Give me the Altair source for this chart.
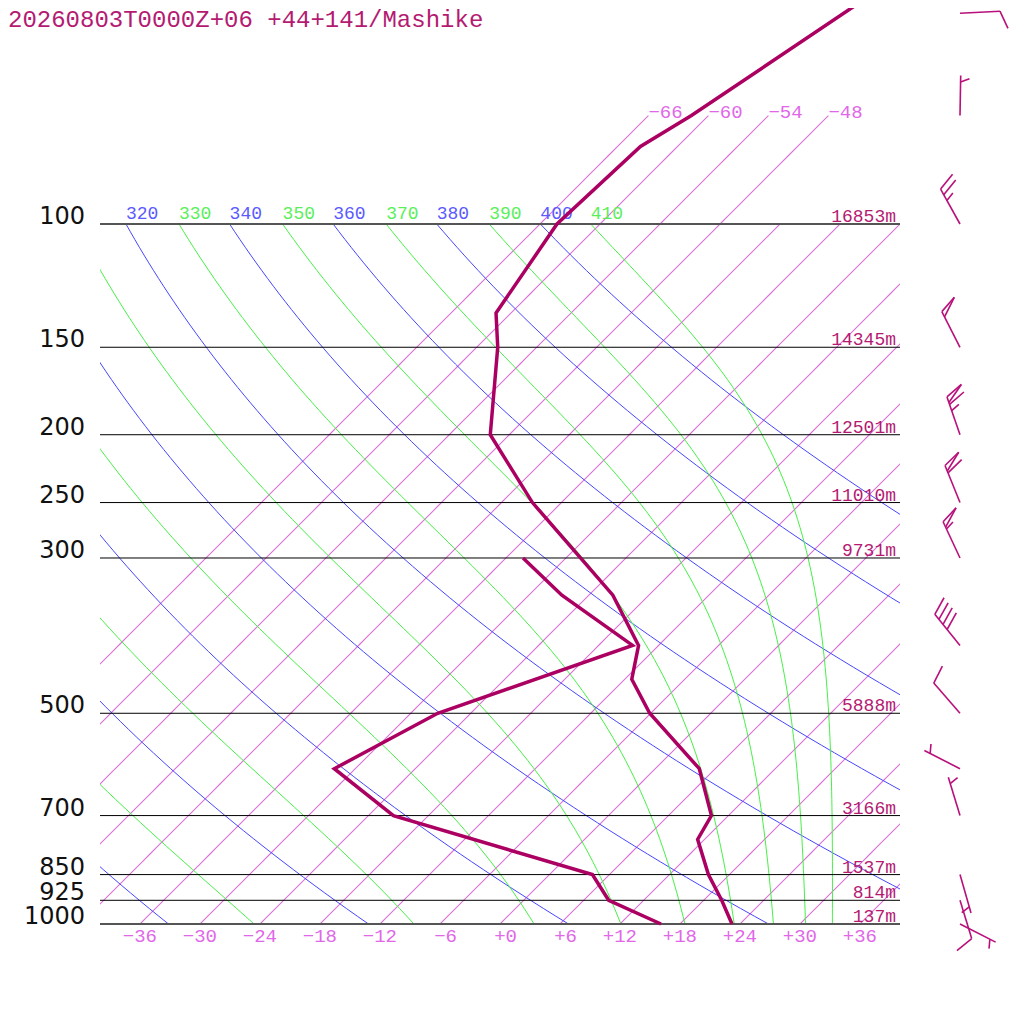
import math
import numpy as np
import pandas as pd
import altair as alt

TITLE = "20260803T0000Z+06 +44+141/Mashike"

# Sounding: temperature (hPa, degC)
T_P = [48, 70, 77.5, 100, 134, 150, 200, 250, 339, 400, 447, 500, 600, 700, 757, 850, 925, 1000]
T_C = [-56.1, -61.7, -63.7, -64.3, -61.5, -57.9, -49.9, -38.9, -21.6, -14.0, -11.3, -6.1,
       4.4, 10.3, 11.3, 15.9, 19.8, 23.2]
# Sounding: dew point
TD_P = [300, 339, 400, 500, 600, 700, 850, 925, 1000]
TD_C = [-34.3, -26.7, -14.6, -27.3, -32.1, -21.5, 4.3, 8.5, 16.1]

# Standard levels and geopotential heights
LEVELS = [100, 150, 200, 250, 300, 500, 700, 850, 925, 1000]
HEIGHTS = ["16853m", "14345m", "12501m", "11010m", "9731m", "5888m", "3166m", "1537m", "814m", "137m"]

# Winds (direction from, degrees; speed, kt)
WIND_P = [50, 70, 100, 150, 200, 250, 300, 400, 500, 600, 700, 850, 925, 1000]
WIND_DIR = [87, 1, 331, 333, 341, 338, 335, 321, 319, 297, 343, 164, 163, 117]
WIND_KT = [10, 5, 25, 50, 65, 60, 55, 40, 10, 5, 5, 5, 10, 5]

# Background lines
ISOTHERMS = list(range(-66, 37, 6))
ISO_TOP = [-66, -60, -54, -48]
ISO_BOTTOM = list(range(-36, 37, 6))
DRY_THETA = list(range(240, 401, 20))
MOIST_THETA = list(range(250, 411, 20))

W, H = 800, 700
X_MIN, X_MAX = -40, 40
PX_PER_X = W / (X_MAX - X_MIN)
PX_PER_LN = H / math.log(10)
SKEW = PX_PER_LN / PX_PER_X  # 45 degree isotherms


def skew_x(t, p):
    return np.asarray(t, dtype=float) + SKEW * np.log(1000.0 / np.asarray(p, dtype=float))


# ---------- background tables ----------
PGRID = np.geomspace(100, 1000, 91)
KAPPA = 0.2857

iso_rows = []
for t in ISOTHERMS:
    for i, p in enumerate(PGRID):
        iso_rows.append({"line": f"T{t}", "i": i, "p": float(p), "X": float(skew_x(t, p))})
iso_df = pd.DataFrame(iso_rows)

PTOP = np.geomspace(70, 100, 12)
iso_top_rows = []
for t in ISO_TOP:
    for i, p in enumerate(PTOP):
        iso_top_rows.append({"line": f"U{t}", "i": i, "p": float(p), "X": float(skew_x(t, p))})
iso_top_df = pd.DataFrame(iso_top_rows)

dry_rows = []
for th in DRY_THETA:
    tc = th * (PGRID / 1000.0) ** KAPPA - 273.15
    xs = skew_x(tc, PGRID)
    for i, (p, x) in enumerate(zip(PGRID, xs)):
        dry_rows.append({"line": f"D{th}", "i": i, "p": p, "X": x})
dry_df = pd.DataFrame(dry_rows)


def theta_e_sat(tk, p):
    tc = tk - 273.15
    e = 6.112 * np.exp(17.67 * tc / (tc + 243.5))
    e = np.minimum(e, 0.5 * p)
    r = 0.622 * e / (p - e)
    return tk * (1000.0 / p) ** (0.2854 * (1 - 0.28 * r)) * np.exp(
        (3.376 / tk - 0.00254) * r * 1000.0 * (1 + 0.81 * r))


def moist_temp(the, p):
    lo = np.full_like(p, 150.0)
    hi = np.full_like(p, 340.0)
    for _ in range(70):
        mid = 0.5 * (lo + hi)
        big = theta_e_sat(mid, p) > the
        hi = np.where(big, mid, hi)
        lo = np.where(big, lo, mid)
    return 0.5 * (lo + hi) - 273.15


moist_rows = []
for th in MOIST_THETA:
    tc = moist_temp(th, PGRID)
    xs = skew_x(tc, PGRID)
    for i, (p, x) in enumerate(zip(PGRID, xs)):
        moist_rows.append({"line": f"M{th}", "i": i, "p": p, "X": x})
moist_df = pd.DataFrame(moist_rows)

# theta labels along 100 hPa
lab_rows = []
for th in DRY_THETA:
    x = float(skew_x(th * 0.1 ** KAPPA - 273.15, 100))
    if X_MIN <= x <= X_MAX - 4:
        lab_rows.append({"X": x, "p": 100, "label": str(th), "kind": "dry"})
for th in MOIST_THETA:
    x = float(skew_x(moist_temp(th, np.array([100.0]))[0], 100))
    if X_MIN <= x <= X_MAX - 4:
        lab_rows.append({"X": x, "p": 100, "label": str(th), "kind": "moist"})
theta_lab_df = pd.DataFrame(lab_rows)


def fmt_t(t):
    return f"{t:+d}".replace("-", "\u2212")


bottom_lab_df = pd.DataFrame({
    "X": [float(t) for t in ISO_BOTTOM],
    "p": [1000] * len(ISO_BOTTOM),
    "label": [fmt_t(t) for t in ISO_BOTTOM],
})
top_lab_df = pd.DataFrame({
    "X": [float(skew_x(t, 70)) for t in ISO_TOP],
    "p": [70] * len(ISO_TOP),
    "label": [fmt_t(t) for t in ISO_TOP],
})

lev_df = pd.DataFrame({"p": LEVELS, "plabel": [str(p) for p in LEVELS], "hlabel": HEIGHTS})
lev_df["edge"] = lev_df["p"].isin([100, 1000])

# ---------- sounding ----------
temp_df = pd.DataFrame({"p": T_P, "X": skew_x(T_C, T_P), "i": range(len(T_P))})
dew_df = pd.DataFrame({"p": TD_P, "X": skew_x(TD_C, TD_P), "i": range(len(TD_P))})

# ---------- wind barbs ----------
BARB_X = 46.0  # skewed-x position of barb column
STAFF, FULL, HALF, STEP, ANG = 40.0, 19.0, 9.5, 6.5, math.radians(68)
seg_rows = []
for p0, d, s in zip(WIND_P, WIND_DIR, WIND_KT):
    ux, uy = math.sin(math.radians(d)), -math.cos(math.radians(d))
    bx = ux * math.cos(ANG) - uy * math.sin(ANG)
    by = ux * math.sin(ANG) + uy * math.cos(ANG)

    def sp(dist):
        t = STAFF - dist
        return ux * t, uy * t

    segs = [((0.0, 0.0), sp(0))]
    n50, rem = divmod(s, 50)
    n10, rem = divmod(rem, 10)
    n5 = rem // 5
    pos = 0.0
    for _ in range(n50):
        a = sp(pos)
        o = (a[0] + bx * FULL, a[1] + by * FULL)
        c = sp(pos + 6)
        segs += [(a, o), (o, c)]
        pos += 8
    for _ in range(n10):
        a = sp(pos)
        segs.append((a, (a[0] + bx * FULL, a[1] + by * FULL)))
        pos += STEP
    for _ in range(n5):
        if pos == 0:
            pos = STEP
        a = sp(pos)
        segs.append((a, (a[0] + bx * HALF, a[1] + by * HALF)))
    for (x1, y1), (x2, y2) in segs:
        seg_rows.append({
            "X": BARB_X + x1 / PX_PER_X, "p": p0 * math.exp(y1 / PX_PER_LN),
            "X2": BARB_X + x2 / PX_PER_X, "p2": p0 * math.exp(y2 / PX_PER_LN),
        })
barb_df = pd.DataFrame(seg_rows)

# ---------- chart ----------
xs = alt.Scale(domain=[X_MIN, X_MAX], range=[0, W], nice=False, zero=False)
ys = alt.Scale(type="log", domain=[100, 1000], range=[0, H], nice=False)
X = alt.X("X:Q", scale=xs, axis=None)
Y = alt.Y("p:Q", scale=ys, axis=None)

ISO_C, ISO_LAB = "orchid", "#e068e8"
BLUE, BLUE_LAB = "#4646ff", "#5a5aff"
GREEN, GREEN_LAB = "#46f046", "#5aef5a"
PROF = "#ab0062"
TXT = "#b41a72"
MONO = "Liberation Mono"


def lines(df, color, clip=True, width=1.0):
    return alt.Chart(df).mark_line(color=color, strokeWidth=width, clip=clip).encode(
        x=X, y=Y, detail="line:N", order="i:Q")


iso_l = lines(iso_df, ISO_C, width=1.1)
iso_top_l = lines(iso_top_df, ISO_C, clip=False, width=1.1)
dry_l = lines(dry_df, BLUE)
moist_l = lines(moist_df, GREEN)

rules_in = alt.Chart(lev_df[~lev_df["edge"]]).mark_rule(color="#000000", strokeWidth=1).encode(
    y=Y, x=alt.value(0), x2=alt.value(W))
rules_edge = alt.Chart(lev_df[lev_df["edge"]]).mark_rule(color="#555555", strokeWidth=2).encode(
    y=Y, x=alt.value(0), x2=alt.value(W))

temp_l = alt.Chart(temp_df).mark_line(color=PROF, strokeWidth=3.5, clip=False,
                                      strokeJoin="miter").encode(x=X, y=Y, order="i:Q")
dew_l = alt.Chart(dew_df).mark_line(color=PROF, strokeWidth=3.5, clip=False,
                                    strokeJoin="miter").encode(x=X, y=Y, order="i:Q")

barbs = alt.Chart(barb_df).mark_rule(color="#b8107a", strokeWidth=1.6, clip=False).encode(
    x=X, y=Y, x2="X2:Q", y2="p2:Q")

theta_txt = alt.Chart(theta_lab_df).mark_text(
    font=MONO, fontSize=18, align="left", baseline="alphabetic", dy=-5).encode(
    x=X, y=Y, text="label:N",
    color=alt.Color("kind:N", scale=alt.Scale(domain=["dry", "moist"], range=[BLUE_LAB, GREEN_LAB]),
                    legend=None))

# right-aligned in a 3-character field centred on the isotherm
bottom_txt = alt.Chart(bottom_lab_df).mark_text(
    font=MONO, fontSize=19, align="right", baseline="alphabetic", dx=17, dy=18, color=ISO_LAB).encode(
    x=X, y=Y, text="label:N")
top_txt = alt.Chart(top_lab_df).mark_text(
    font=MONO, fontSize=19, align="left", baseline="alphabetic", dy=2, color=ISO_LAB).encode(
    x=X, y=Y, text="label:N")

plab = alt.Chart(lev_df).mark_text(
    font="DejaVu Sans", fontSize=24, align="right", baseline="alphabetic", color="#111111").encode(
    x=alt.value(-15), y=Y, text="plabel:N")
hlab = alt.Chart(lev_df).mark_text(
    font=MONO, fontSize=18, align="right", baseline="alphabetic", dy=-2, color=TXT).encode(
    x=alt.value(796), y=Y, text="hlabel:N")

title = alt.Chart(pd.DataFrame({"t": [TITLE]})).mark_text(
    font=MONO, fontSize=24, align="left", baseline="alphabetic", color=TXT).encode(
    x=alt.value(-92), y=alt.value(-197.5), text="t:N")

chart = alt.layer(
    iso_l, iso_top_l, dry_l, moist_l, rules_in, rules_edge,
    theta_txt, bottom_txt, top_txt, plab, hlab, title,
    temp_l, dew_l, barbs,
).properties(
    width=W, height=H,
    padding={"left": 92, "top": 216, "right": 116, "bottom": 92},
    autosize=alt.AutoSizeParams(type="none"),
    background="white",
).configure_view(stroke=None)

chart.save("out.html", embed_options={"renderer": "svg", "actions": False})
